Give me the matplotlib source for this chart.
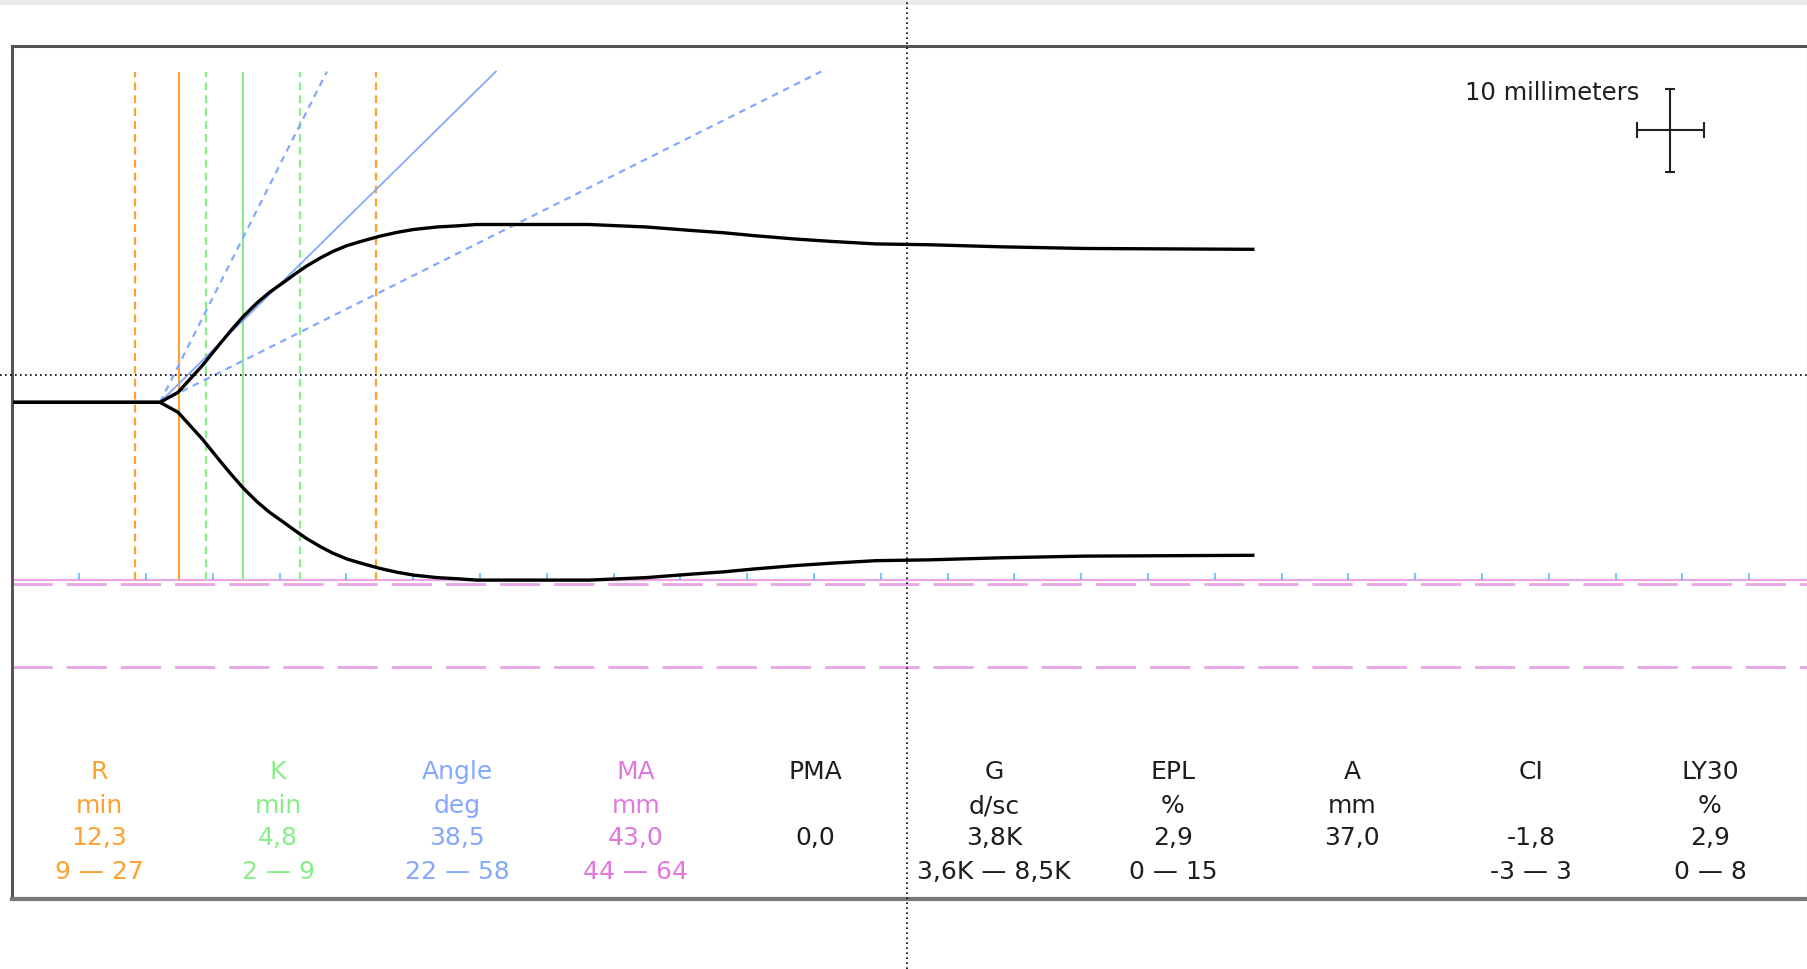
import numpy as np
import matplotlib
matplotlib.use("Agg")
import matplotlib.pyplot as plt
from matplotlib.lines import Line2D
from matplotlib.patches import Rectangle
import matplotlib.transforms as mtransforms

# ---------------- data ----------------
# TEG trace: time (min) and total amplitude (mm), read from the tracing
trace_time = [0.0, 10.85, 12.2, 13.1, 14.05, 15.35, 16.2, 17.1, 18.1, 19.05, 20.1,
              20.95, 21.8, 22.85, 23.8, 24.85, 26.1, 27.35, 28.6, 29.85, 31.6,
              33.25, 34.55, 38.5, 42.95, 47.25, 50.45, 53.05, 55.35, 58.35, 61.15,
              64.45, 68.45, 73.85, 80.0, 92.65]
trace_amp = [0.0, 0.0, 2.4, 5.6, 9.0, 14.2, 17.5, 20.8, 24.0, 26.6, 29.0,
             31.0, 32.9, 34.9, 36.5, 37.9, 39.1, 40.2, 41.1, 41.8, 42.4,
             42.7, 43.0, 43.0, 43.0, 42.4, 41.6, 41.0, 40.3, 39.5, 38.9,
             38.3, 38.1, 37.6, 37.2, 37.0]

R_value = 12.3
R_range = [9, 27]
K_value = 4.8
K_range = [2, 9]
angle_value = 38.5
angle_range = [22, 58]
MA_value = 43.0
MA_range = [44, 64]

param_names = ["R", "K", "Angle", "MA", "PMA", "G", "EPL", "A", "CI", "LY30"]
param_units = ["min", "min", "deg", "mm", "", "d/sc", "%", "mm", "", "%"]
param_values = ["12,3", "4,8", "38,5", "43,0", "0,0", "3,8K", "2,9", "37,0", "-1,8", "2,9"]
param_ranges = ["9 — 27", "2 — 9", "22 — 58", "44 — 64", "", "3,6K — 8,5K", "0 — 15", "", "-3 — 3", "0 — 8"]

cursor_time = 66.8     # min
cursor_level = 3.3     # mm
paper_speed = 2.0      # mm per minute
scale_mm = 10.0

# ---------------- style ----------------
ORANGE = "#FFA030"
GREEN = "#88EE88"
BLUE = "#85A8FF"
VIOLET = "#E078E0"
PINK_LINE = "#E8A6E8"
TICK_BLUE = "#66B8F0"
DARK = "#1E1E1E"
param_colors = [ORANGE, GREEN, BLUE, VIOLET, DARK, DARK, DARK, DARK, DARK, DARK]

W, H = 1808, 970
fig = plt.figure(figsize=(W / 100, H / 100), dpi=100)
fig.patch.set_facecolor("white")

# faint gray band on top
fig.add_artist(Rectangle((0, 1 - 6 / H), 1, 6 / H, transform=fig.transFigure,
                         color="#EAEAEA", lw=0, zorder=0))

left_px, right_px, top_px, bottom_px = 12, 1807, 47, 900
ax = fig.add_axes([left_px / W, 1 - bottom_px / H, (right_px - left_px) / W,
                   (bottom_px - top_px) / H])
px_per_min = 13.36
px_per_mm = 8.27
origin_px = 15
baseline_px = 403.3
xmin = (left_px - origin_px) / px_per_min
xmax = xmin + (right_px - left_px) / px_per_min
ax.set_xlim(xmin, xmax)
ax.set_ylim(-(bottom_px - baseline_px) / px_per_mm, (baseline_px - top_px) / px_per_mm)
ax.set_xticks([])
ax.set_yticks([])
for side, (c, lw) in {"left": ("#555555", 2.2), "top": ("#555555", 2.2),
                      "bottom": ("#777777", 3.0), "right": ("#C8C8C8", 0.8)}.items():
    ax.spines[side].set_color(c)
    ax.spines[side].set_linewidth(lw)

t = np.array(trace_time)
a = np.array(trace_amp)
TOP = 40.0

# MA lines (pink)
ma_half = MA_value / 2
ax.axhline(-ma_half, color=PINK_LINE, lw=1.6, zorder=2)
for v in MA_range:
    ax.axhline(-v / 2, color=PINK_LINE, lw=2.0, ls=(0, (14.5, 5.0)), zorder=2)

# time ticks (every 5 min) on the MA line
tick_times = np.arange(5, xmax, 5)
ax.vlines(tick_times - 0.2, -ma_half, -ma_half + 0.9, color=TICK_BLUE, lw=1.2, zorder=3)

# R lines
ax.vlines(R_value, -ma_half, TOP, color=ORANGE, lw=1.5, zorder=3)
ax.vlines(R_range, -ma_half, TOP, color=ORANGE, lw=1.6, ls=(0, (3.5, 2.3)), zorder=3)
# K lines
ax.vlines(R_value + K_value, -ma_half, TOP, color=GREEN, lw=1.5, zorder=3)
ax.vlines([R_value + k for k in K_range], -ma_half, TOP, color=GREEN, lw=1.6,
          ls=(0, (3.5, 2.3)), zorder=3)

# Angle lines from split point
t0 = t[1]
def angle_line(deg, **kw):
    t_end = t0 + TOP / (paper_speed * np.tan(np.radians(deg)))
    ax.plot([t0, t_end], [0, TOP], **kw)

angle_line(angle_value, color=BLUE, lw=1.3, zorder=3)
for d in angle_range:
    angle_line(d, color=BLUE, lw=1.6, ls=(0, (3.0, 2.5)), zorder=3)

# TEG trace
ax.plot(t, a / 2, color="black", lw=2.4, zorder=5, solid_joinstyle="round")
ax.plot(t, -a / 2, color="black", lw=2.4, zorder=5, solid_joinstyle="round")

# scale cross (10 mm)
sx, sy = 123.9, 32.9
ax.errorbar([sx], [sy], yerr=scale_mm / 2, color="#222222", elinewidth=1.5,
            capsize=3.8, capthick=1.5, fmt="none", zorder=6)
ax.errorbar([sx], [sy], xerr=scale_mm / paper_speed / 2, color="#222222", elinewidth=1.5,
            capsize=6.0, capthick=1.5, fmt="none", zorder=6)
fig.text(1639 / W, 1 - 93 / H, "10 millimeters", ha="right", va="center",
         fontsize=17.5, color=DARK)

# cursor lines extending across the whole figure
bt_v = mtransforms.blended_transform_factory(ax.transData, fig.transFigure)
fig.add_artist(Line2D([cursor_time, cursor_time], [0, 1], transform=bt_v,
                      color="black", lw=1.2, ls=(0, (1, 2)), zorder=10))
bt_h = mtransforms.blended_transform_factory(fig.transFigure, ax.transData)
fig.add_artist(Line2D([0, 1], [cursor_level, cursor_level], transform=bt_h,
                      color="black", lw=1.2, ls=(0, (1, 2)), zorder=10))

# parameter table
col_x0, col_dx = 99, 179.0
row_y = [772.5, 806, 838, 872]
for i, (n, u, v, r) in enumerate(zip(param_names, param_units, param_values, param_ranges)):
    x = (col_x0 + col_dx * i) / W
    for txt, y in zip([n, u, v, r], row_y):
        if txt:
            fig.text(x, 1 - y / H, txt, ha="center", va="center", fontsize=18,
                     color=param_colors[i])

fig.savefig("out.png", dpi=100, facecolor="white")
